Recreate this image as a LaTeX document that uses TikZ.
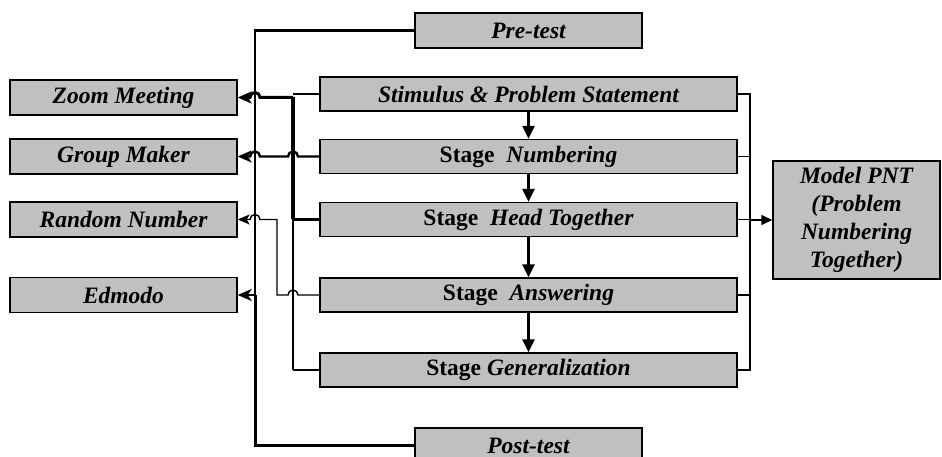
\documentclass[tikz,border=0pt]{standalone}
\usepackage{fontspec}
\setmainfont{Liberation Serif}
\usetikzlibrary{arrows.meta}
\definecolor{boxgray}{HTML}{C0C0C0}
\begin{document}
\begin{tikzpicture}[x=1pt,y=-1pt,
  box/.style={draw=black, line width=1.4pt, fill=boxgray, inner sep=0pt, align=center,
    font=\fontsize{23.5}{27}\selectfont\bfseries},
  sidebox/.style={box, minimum width=227pt, minimum height=35pt},
  midbox/.style={box, minimum width=417pt, minimum height=34pt},
  thinln/.style={line width=1.4pt},
  medln/.style={line width=2.4pt},
  heavyln/.style={line width=3pt},
  busln/.style={line width=4.5pt},
  leftarr/.style={-{Stealth[length=14pt,width=12pt,inset=4pt]}},
  smallarr/.style={-{Stealth[length=12pt,width=10pt,inset=3pt]}},
  downarr/.style={heavyln,-{Triangle[length=13pt,width=12pt]}},
  rightarr/.style={thinln,-{Triangle[length=11pt,width=10pt]}}]
\clip (0,0) rectangle (942,457);
\fill[white] (0,0) rectangle (942,457);

% left boxes
\node[sidebox] (zoom)   at (123.5,97.5) {\itshape Zoom Meeting};
\node[sidebox] (group)  at (123.5,156.5) {\itshape Group Maker};
\node[sidebox] (random) at (123.5,219.5) {\itshape Random Number};
\node[sidebox] (edmodo) at (123.5,295) {\itshape Edmodo};

% tests
\node[sidebox] (pre)  at (528.5,30.5) {\itshape Pre-test};
\node[sidebox] (post) at (528.5,445.5) {\itshape Post-test};

% middle stages
\node[midbox] (stim) at (528.5,94) {\itshape Stimulus \& Problem Statement};
\node[midbox] (num)  at (528.5,156.5) {Stage\ \ \textit{Numbering}};
\node[midbox] (head) at (528.5,219.5) {Stage\ \ \textit{Head Together}};
\node[midbox] (ans)  at (528.5,295) {Stage\ \ \textit{Answering}};
\node[midbox] (gen)  at (528.5,370) {Stage \textit{Generalization}};

% model
\node[box, minimum width=167pt, minimum height=118pt, font=\fontsize{23.5}{28}\selectfont\bfseries\itshape]
  (model) at (856.5,220) {Model PNT\\(Problem\\Numbering\\Together)};

% coordinates
\coordinate (bus) at (255,295);
\coordinate (hubtop) at (293,97.5);
\coordinate (hubmid) at (293,219.5);
\coordinate (hubbot) at (293,370);
\coordinate (rbtop) at (750,94);
\coordinate (rbbot) at (750,370);
\coordinate (rbmid) at (750,220);

% pre / post test bus
\draw[medln] (pre.west) -| (bus);
\draw[heavyln] (post.west) -| (bus);
\draw[medln,leftarr] (bus) -- (edmodo.east);

% stimulus -> zoom
\draw[thinln] (stim.west) -- (293,94);
\draw[heavyln,leftarr] (hubtop) -- (260,97.5) arc (0:-180:5) -- (zoom.east);
% hub bus
\draw[busln] (hubtop) -- (hubmid);
\draw[medln] (hubmid) -- (hubbot);
\draw[medln] (head.west) -- (hubmid);
\draw[medln] (gen.west) -- (hubbot);

% numbering -> group maker
\draw[medln,leftarr] (num.west) -- (298,156.5) arc (0:-180:5) -- (260,156.5) arc (0:-180:5) -- (group.east);

% answering -> random number
\draw[thinln,smallarr] (ans.west) -- (298,295) arc (0:-180:5) -- (277,295) -- (277,219.5) -- (260,219.5) arc (0:-180:5) -- (random.east);

% down arrows
\draw[downarr] (stim.south) -- (num.north);
\draw[downarr] (num.south) -- (head.north);
\draw[downarr] (head.south) -- (ans.north);
\draw[downarr] (ans.south) -- (gen.north);

% right bracket
\draw[thinln] (stim.east) -- (rbtop) -- (rbbot) -- (gen.east);
\draw[thinln] (num.east) -- (750,156.5);
\draw[thinln] (head.east) -- (750,219.5);
\draw[thinln] (ans.east) -- (750,295);
\draw[rightarr] (rbmid) -- (model.west);
\end{tikzpicture}
\end{document}
